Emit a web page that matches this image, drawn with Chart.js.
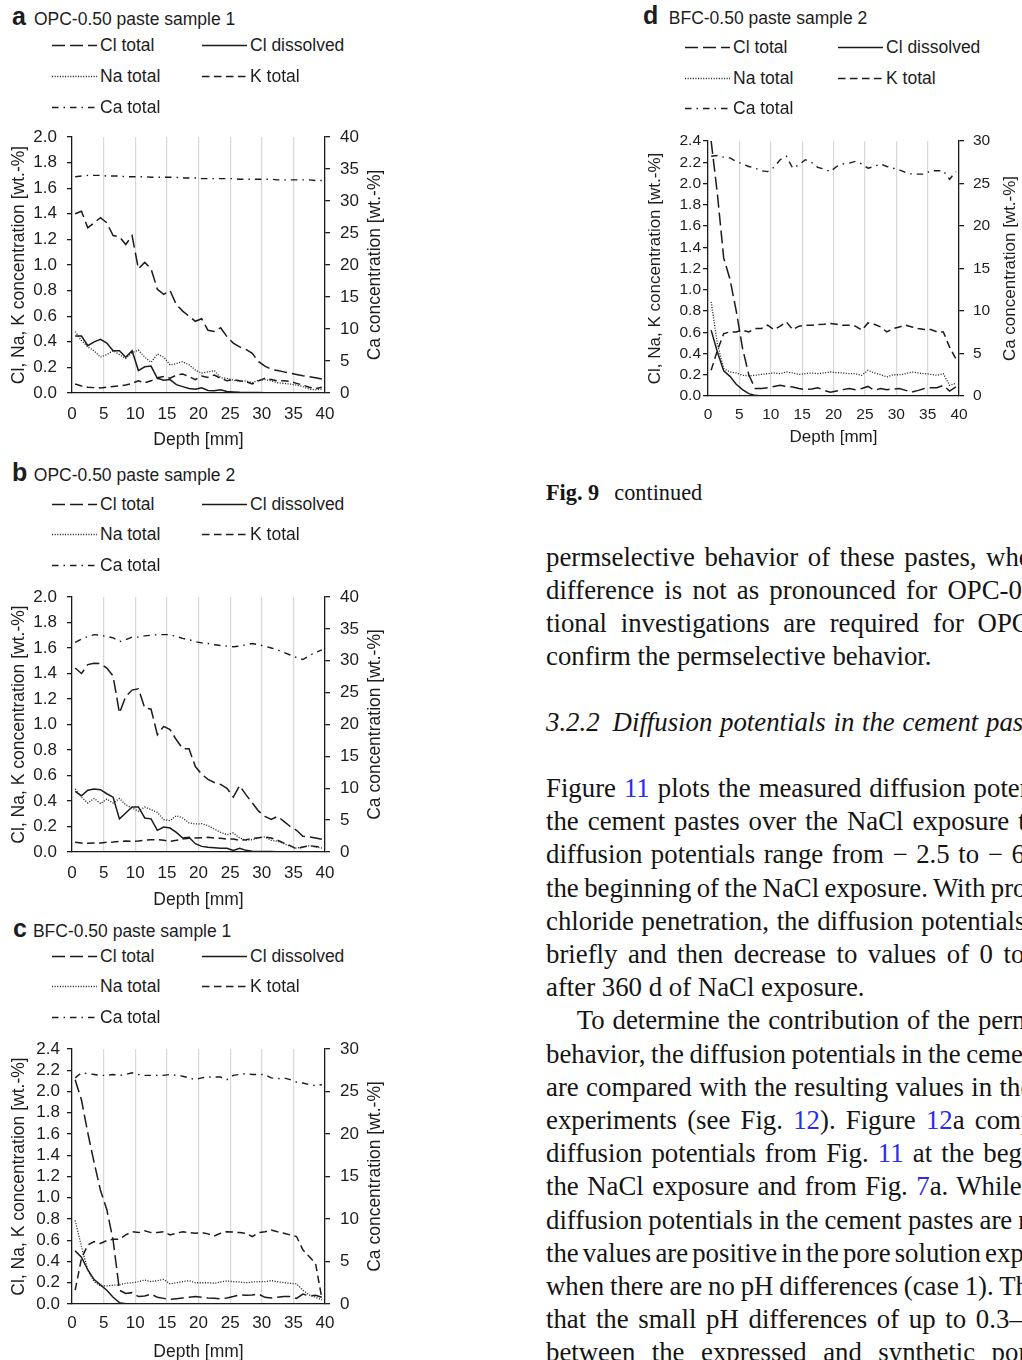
<!DOCTYPE html>
<html lang="en">
<head>
<meta charset="utf-8">
<title>Fig. 9 continued</title>
<script src="https://cdn.jsdelivr.net/npm/chart.js@4.4.1/dist/chart.umd.min.js"></script>
<style>
  html, body { margin: 0; padding: 0; background: #fff; }
  body { width: 1022px; height: 1360px; overflow: hidden; position: relative; color: #1d1d1d;
         font-family: "Liberation Sans", Arial, sans-serif; }
  canvas.plot { position: absolute; }
  .ptitle { position: absolute; display: flex; align-items: baseline; white-space: nowrap; line-height: 1; }
  .ptitle b { font-size: 25px; font-weight: bold; }
  .ptitle span { font-size: 17.5px; }
  .leg { position: absolute; display: flex; align-items: flex-start; white-space: nowrap; font-size: 17.5px; line-height: 1; }
  .leg svg { margin-right: 3px; flex: none; }
  .ln { position: absolute; left: 546px; font-family: "Liberation Serif", "Times New Roman", serif;
        font-size: 26.8px; line-height: 1; white-space: nowrap; color: #141414; }
  .cap { font-size: 22.3px; }
  .ref { color: #2a2af0; }
</style>
</head>
<body>

<div class="ptitle" style="left:12px;top:3.8px"><b style="margin-right:8px">a</b><span>OPC-0.50 paste sample 1</span></div>
<div class="ptitle" style="left:12px;top:460px"><b style="margin-right:6.5px">b</b><span>OPC-0.50 paste sample 2</span></div>
<div class="ptitle" style="left:13px;top:916px"><b style="margin-right:6px">c</b><span>BFC-0.50 paste sample 1</span></div>
<div class="ptitle" style="left:643px;top:2.8px"><b style="margin-right:10.5px">d</b><span>BFC-0.50 paste sample 2</span></div>

<canvas id="chartA" class="plot" width="400" height="342" style="left:0;top:113px"></canvas>
<canvas id="chartB" class="plot" width="400" height="341" style="left:0;top:573px"></canvas>
<canvas id="chartC" class="plot" width="400" height="341" style="left:0;top:1025px"></canvas>
<canvas id="chartD" class="plot" width="386" height="341" style="left:636px;top:117px"></canvas>

<div class="ln cap" style="top:482px"><b>Fig. 9</b><span style="margin-left:15px">continued</span></div>

<div class="ln" style="top:544.3px;word-spacing:2.9px">permselective behavior of these pastes, whereas the</div>
<div class="ln" style="top:577.1px;word-spacing:3.5px">difference is not as pronounced for OPC-0.50. Addi-</div>
<div class="ln" style="top:609.9px;word-spacing:7px">tional investigations are required for OPC-0.50 to</div>
<div class="ln" style="top:642.6px">confirm the permselective behavior.</div>

<div class="ln" style="top:709.3px;font-style:italic;word-spacing:1px">3.2.2<span style="margin-left:13px">Diffusion potentials in the cement pastes</span></div>

<div class="ln" style="top:774.9px;word-spacing:1.3px">Figure <span class="ref">11</span> plots the measured diffusion potentials in</div>
<div class="ln" style="top:808.1px;word-spacing:2.3px">the cement pastes over the NaCl exposure time. The</div>
<div class="ln" style="top:841.3px;word-spacing:1.9px">diffusion potentials range from − 2.5 to − 6 mV at</div>
<div class="ln" style="top:874.5px;word-spacing:-1.3px">the beginning of the NaCl exposure. With progressing</div>
<div class="ln" style="top:907.7px;word-spacing:1.1px">chloride penetration, the diffusion potentials increase</div>
<div class="ln" style="top:940.9px;word-spacing:3.8px">briefly and then decrease to values of 0 to − 1 mV</div>
<div class="ln" style="top:974.1px">after 360 d of NaCl exposure.</div>
<div class="ln" style="top:1007.3px;left:576.7px;word-spacing:1.2px">To determine the contribution of the permselective</div>
<div class="ln" style="top:1040.5px;word-spacing:-1px">behavior, the diffusion potentials in the cement pastes</div>
<div class="ln" style="top:1073.7px;word-spacing:0.7px">are compared with the resulting values in the pore solution</div>
<div class="ln" style="top:1106.9px;word-spacing:3.5px">experiments (see Fig. <span class="ref">12</span>). Figure <span class="ref">12</span>a compares the</div>
<div class="ln" style="top:1140.1px;word-spacing:2.5px">diffusion potentials from Fig. <span class="ref">11</span> at the beginning of</div>
<div class="ln" style="top:1173.3px;word-spacing:1.8px">the NaCl exposure and from Fig. <span class="ref">7</span>a. While the</div>
<div class="ln" style="top:1206.5px;word-spacing:-0.6px">diffusion potentials in the cement pastes are negative,</div>
<div class="ln" style="top:1239.7px;word-spacing:-2.6px">the values are positive in the pore solution experiments</div>
<div class="ln" style="top:1272.9px;word-spacing:-0.8px">when there are no pH differences (case 1). This shows</div>
<div class="ln" style="top:1306.1px;word-spacing:3px">that the small pH differences of up to 0.3–0.4 pH units</div>
<div class="ln" style="top:1339.3px;word-spacing:9.8px">between the expressed and synthetic pore solutions</div>

<script>
// depth of each ground layer [mm]
const depthMm = [0.5, 1.5, 2.5, 3.5, 4.5, 5.5, 6.5, 7.5, 8.5, 9.5,
  10.5, 11.5, 12.5, 13.5, 14.5, 15.5, 16.5, 17.5, 18.5, 19.5,
  20.5, 21.5, 22.5, 23.5, 24.5, 25.5, 26.5, 27.5, 28.5, 29.5,
  30.5, 31.5, 32.5, 33.5, 34.5, 35.5, 36.5, 37.5, 38.5, 39.5];

const seriesNames = ['Cl total', 'Cl dissolved', 'Na total', 'K total', 'Ca total'];

// a: OPC-0.50 paste sample 1  (Cl, Na, K left axis; Ca right axis)
const aClTotal = [1.40, 1.42, 1.29, 1.33, 1.37, 1.33, 1.23, 1.22, 1.16, 1.23,
  0.97, 1.02, 0.97, 0.81, 0.77, 0.80, 0.69, 0.64, 0.60, 0.56,
  0.58, 0.49, 0.48, 0.51, 0.44, 0.39, 0.36, 0.34, 0.31, 0.245,
  0.21, 0.185, 0.175, 0.165, 0.155, 0.145, 0.135, 0.128, 0.12, 0.11];
const aClDissolved = [0.445, 0.445, 0.37, 0.40, 0.42, 0.39, 0.33, 0.33, 0.28, 0.33,
  0.175, 0.205, 0.21, 0.115, 0.10, 0.105, 0.065, 0.05, 0.035, 0.03,
  0.04, 0.02, 0.018, 0.025, 0.012, 0.008, 0.005, 0.004, 0.003, 0.003,
  0.002, 0.002, 0.002, 0.001, 0.001, 0.001, 0.001, 0.001, 0.0, 0.0];
const aNaTotal = [0.48, 0.41, 0.36, 0.33, 0.28, 0.30, 0.33, 0.30, 0.27, 0.315,
  0.335, 0.28, 0.24, 0.305, 0.28, 0.22, 0.23, 0.245, 0.22, 0.18,
  0.155, 0.165, 0.175, 0.12, 0.115, 0.10, 0.09, 0.095, 0.08, 0.10,
  0.105, 0.095, 0.08, 0.075, 0.07, 0.062, 0.05, 0.03, 0.025, 0.03];
const aKTotal = [0.07, 0.055, 0.045, 0.042, 0.04, 0.045, 0.05, 0.055, 0.062, 0.075,
  0.095, 0.08, 0.095, 0.12, 0.128, 0.115, 0.14, 0.148, 0.128, 0.105,
  0.133, 0.122, 0.14, 0.115, 0.095, 0.105, 0.095, 0.09, 0.07, 0.095,
  0.115, 0.105, 0.095, 0.095, 0.09, 0.075, 0.062, 0.045, 0.035, 0.045];
const aCaTotal = [33.8, 33.9, 34.0, 34.0, 34.0, 33.9, 33.9, 33.9, 33.8, 33.8,
  33.8, 33.8, 33.7, 33.7, 33.7, 33.7, 33.7, 33.6, 33.6, 33.6,
  33.5, 33.5, 33.5, 33.5, 33.5, 33.5, 33.4, 33.4, 33.4, 33.4,
  33.4, 33.4, 33.3, 33.3, 33.3, 33.3, 33.3, 33.3, 33.2, 33.2];

// b: OPC-0.50 paste sample 2
const bClTotal = [1.443, 1.40, 1.47, 1.48, 1.477, 1.443, 1.38, 1.09, 1.22, 1.27,
  1.28, 1.13, 1.12, 0.92, 0.985, 0.96, 0.88, 0.81, 0.81, 0.67,
  0.61, 0.57, 0.545, 0.53, 0.50, 0.43, 0.52, 0.45, 0.385, 0.32,
  0.28, 0.255, 0.28, 0.24, 0.20, 0.17, 0.123, 0.118, 0.11, 0.10];
const bClDissolved = [0.476, 0.44, 0.484, 0.494, 0.489, 0.457, 0.43, 0.26, 0.306, 0.353,
  0.353, 0.267, 0.26, 0.17, 0.196, 0.188, 0.154, 0.11, 0.115, 0.065,
  0.044, 0.037, 0.034, 0.029, 0.029, 0.013, 0.029, 0.013, 0.005, 0.004,
  0.003, 0.003, 0.002, 0.002, 0.001, 0.001, 0.001, 0.0, 0.0, 0.0];
const bNaTotal = [0.494, 0.43, 0.384, 0.42, 0.38, 0.415, 0.384, 0.42, 0.37, 0.345,
  0.32, 0.353, 0.332, 0.31, 0.254, 0.246, 0.285, 0.267, 0.228, 0.22,
  0.222, 0.207, 0.18, 0.154, 0.136, 0.149, 0.11, 0.092, 0.097, 0.11,
  0.118, 0.092, 0.084, 0.065, 0.044, 0.031, 0.039, 0.05, 0.039, 0.031];
const bKTotal = [0.076, 0.07, 0.068, 0.07, 0.07, 0.076, 0.078, 0.084, 0.086, 0.084,
  0.086, 0.092, 0.097, 0.097, 0.092, 0.084, 0.092, 0.102, 0.107, 0.11,
  0.112, 0.115, 0.11, 0.107, 0.102, 0.102, 0.092, 0.097, 0.107, 0.112,
  0.118, 0.11, 0.092, 0.07, 0.05, 0.024, 0.039, 0.05, 0.044, 0.039];
const bCaTotal = [32.9, 33.4, 33.8, 34.1, 34.0, 33.8, 33.6, 33.0, 33.3, 33.7,
  33.7, 33.9, 34.0, 34.1, 34.1, 34.1, 33.8, 33.5, 33.3, 33.0,
  32.8, 32.7, 32.5, 32.4, 32.3, 32.2, 32.3, 32.5, 32.7, 32.5,
  32.3, 32.0, 31.7, 31.3, 30.9, 30.5, 30.2, 30.8, 31.3, 31.7];

// c: BFC-0.50 paste sample 1
const cClTotal = [2.11, 1.92, 1.61, 1.33, 1.07, 0.89, 0.60, 0.13, 0.10, 0.107,
  0.07, 0.075, 0.094, 0.063, 0.053, 0.044, 0.05, 0.057, 0.063, 0.07,
  0.063, 0.057, 0.053, 0.05, 0.057, 0.07, 0.085, 0.082, 0.085, 0.094,
  0.063, 0.057, 0.063, 0.07, 0.07, 0.053, 0.094, 0.075, 0.082, 0.063];
const cClDissolved = [0.50, 0.44, 0.32, 0.23, 0.18, 0.13, 0.063, 0.013, 0.003, 0.0,
  0.0, 0.0, 0.0, 0.0, 0.0, 0.0, 0.0, 0.0, 0.0, 0.0,
  0.0, 0.0, 0.0, 0.0, 0.0, 0.0, 0.0, 0.0, 0.0, 0.0,
  0.0, 0.0, 0.0, 0.0, 0.0, 0.0, 0.0, 0.0, 0.0, 0.0];
const cNaTotal = [0.785, 0.54, 0.32, 0.21, 0.17, 0.17, 0.176, 0.18, 0.195, 0.20,
  0.21, 0.226, 0.21, 0.22, 0.232, 0.19, 0.20, 0.21, 0.22, 0.20,
  0.20, 0.20, 0.195, 0.207, 0.217, 0.21, 0.207, 0.20, 0.207, 0.21,
  0.21, 0.22, 0.21, 0.20, 0.195, 0.19, 0.13, 0.085, 0.063, 0.038];
const cKTotal = [0.13, 0.43, 0.556, 0.587, 0.57, 0.597, 0.61, 0.61, 0.65, 0.68,
  0.672, 0.69, 0.672, 0.672, 0.68, 0.65, 0.666, 0.68, 0.672, 0.666,
  0.672, 0.66, 0.64, 0.666, 0.68, 0.678, 0.672, 0.666, 0.635, 0.672,
  0.68, 0.697, 0.68, 0.666, 0.65, 0.635, 0.51, 0.446, 0.383, 0.053];
const cCaTotal = [26.6, 27.2, 27.1, 27.0, 26.9, 26.9, 27.0, 26.9, 27.0, 27.2,
  27.0, 26.9, 26.9, 26.9, 26.9, 27.0, 26.9, 26.8, 26.6, 26.4,
  26.6, 26.7, 26.7, 26.7, 26.4, 26.9, 27.0, 27.1, 27.0, 27.0,
  27.0, 26.6, 26.5, 26.6, 26.4, 26.1, 26.0, 25.8, 25.7, 25.8];

// d: BFC-0.50 paste sample 2
const dClTotal = [2.40, 1.90, 1.30, 1.10, 0.80, 0.45, 0.20, 0.07, 0.07, 0.078,
  0.09, 0.10, 0.09, 0.085, 0.07, 0.06, 0.066, 0.078, 0.053, 0.035,
  0.047, 0.06, 0.07, 0.06, 0.07, 0.09, 0.053, 0.07, 0.06, 0.066,
  0.07, 0.053, 0.038, 0.053, 0.07, 0.078, 0.078, 0.10, 0.047, 0.085];
const dClDissolved = [0.62, 0.415, 0.236, 0.185, 0.11, 0.06, 0.022, 0.006, 0.0, 0.0,
  0.0, 0.0, 0.0, 0.0, 0.0, 0.0, 0.0, 0.0, 0.0, 0.0,
  0.0, 0.0, 0.0, 0.0, 0.0, 0.0, 0.0, 0.0, 0.0, 0.0,
  0.0, 0.0, 0.0, 0.0, 0.0, 0.0, 0.0, 0.0, 0.0, 0.0];
const dNaTotal = [0.886, 0.49, 0.258, 0.226, 0.217, 0.195, 0.19, 0.195, 0.204, 0.21,
  0.217, 0.21, 0.226, 0.217, 0.204, 0.21, 0.217, 0.21, 0.217, 0.226,
  0.22, 0.217, 0.21, 0.21, 0.195, 0.242, 0.217, 0.20, 0.18, 0.20,
  0.20, 0.21, 0.226, 0.217, 0.21, 0.204, 0.195, 0.21, 0.10, 0.12];
const dKTotal = [0.242, 0.43, 0.587, 0.603, 0.603, 0.62, 0.603, 0.635, 0.635, 0.666,
  0.625, 0.657, 0.697, 0.625, 0.657, 0.666, 0.666, 0.672, 0.675, 0.682,
  0.675, 0.666, 0.666, 0.657, 0.62, 0.688, 0.675, 0.65, 0.603, 0.635,
  0.65, 0.666, 0.65, 0.635, 0.625, 0.625, 0.603, 0.603, 0.46, 0.35];
const dCaTotal = [28.2, 28.3, 28.1, 28.0, 27.6, 27.3, 27.0, 26.8, 26.5, 26.4,
  26.9, 27.8, 28.2, 26.8, 27.2, 27.8, 27.5, 26.9, 26.7, 26.4,
  27.0, 27.3, 27.4, 27.6, 27.3, 26.8, 27.0, 27.3, 27.0, 26.8,
  26.6, 26.3, 26.1, 26.1, 26.1, 26.5, 26.5, 26.5, 25.5, 26.4];

const ink = '#1b1b1b';
const lineStyles = {
  'Cl total':     { dash: [13, 5], width: 1.5, color: ink },
  'Cl dissolved': { dash: [], width: 1.5, color: ink },
  'Na total':     { dash: [1.1, 1.5], width: 1.3, color: '#2a2a2a' },
  'K total':      { dash: [7.5, 4.5], width: 1.5, color: ink },
  'Ca total':     { dash: [6.5, 5, 1.5, 5], width: 1.4, color: ink }
};

Chart.defaults.font.family = '"Liberation Sans", Arial, sans-serif';
Chart.defaults.color = '#1d1d1d';

// Ca axis title reads bottom-to-top like the left one
const rightAxisTitle = {
  id: 'rightAxisTitle',
  afterDraw(chart, args, opts) {
    const { ctx, chartArea } = chart;
    ctx.save();
    ctx.translate(chartArea.right + opts.offset, (chartArea.top + chartArea.bottom) / 2);
    ctx.rotate(-Math.PI / 2);
    ctx.font = opts.size + 'px "Liberation Sans", Arial, sans-serif';
    ctx.fillStyle = '#1d1d1d';
    ctx.textAlign = 'center';
    ctx.textBaseline = 'middle';
    ctx.fillText(opts.text, 0, 0);
    ctx.restore();
  }
};

// two-column legend under the panel title, built from the chart datasets
function buildLegend(chart, pos) {
  const svgNS = 'http://www.w3.org/2000/svg';
  chart.data.datasets.forEach((ds, i) => {
    const item = document.createElement('div');
    item.className = 'leg';
    item.style.left = pos.cols[i % 2] + 'px';
    item.style.top = (pos.rows[Math.floor(i / 2)] - 8.5) + 'px';
    const svg = document.createElementNS(svgNS, 'svg');
    svg.setAttribute('width', '45');
    svg.setAttribute('height', '17');
    const ln = document.createElementNS(svgNS, 'line');
    ln.setAttribute('x1', '0'); ln.setAttribute('x2', '45');
    ln.setAttribute('y1', '8.5'); ln.setAttribute('y2', '8.5');
    ln.setAttribute('stroke', ds.borderColor);
    ln.setAttribute('stroke-width', ds.borderWidth);
    if (ds.borderDash.length) ln.setAttribute('stroke-dasharray', ds.borderDash.join(' '));
    svg.appendChild(ln);
    item.appendChild(svg);
    item.appendChild(document.createTextNode(ds.label));
    document.body.appendChild(item);
  });
}

const panels = [
  { canvas: 'chartA', series: [aClTotal, aClDissolved, aNaTotal, aKTotal, aCaTotal],
    yMax: 2.0, caMax: 40, tickSize: 17, titleSize: 17.5, yPad: 10, y1Pad: 10, xPad: 10.8,
    xTitlePad: 4.5, yTitlePad: 9, rightWidth: 75, rightTitleOffset: 50,
    legend: { cols: [52, 202], rows: [45, 76, 107] } },
  { canvas: 'chartB', series: [bClTotal, bClDissolved, bNaTotal, bKTotal, bCaTotal],
    yMax: 2.0, caMax: 40, tickSize: 17, titleSize: 17.5, yPad: 10, y1Pad: 10, xPad: 10.8,
    xTitlePad: 3.5, yTitlePad: 9, rightWidth: 75, rightTitleOffset: 50,
    legend: { cols: [52, 202], rows: [504, 534, 565] } },
  { canvas: 'chartC', series: [cClTotal, cClDissolved, cNaTotal, cKTotal, cCaTotal],
    yMax: 2.4, caMax: 30, tickSize: 17, titleSize: 17.5, yPad: 7, y1Pad: 10, xPad: 8.8,
    xTitlePad: 3.5, yTitlePad: 9, rightWidth: 75, rightTitleOffset: 50,
    legend: { cols: [52, 202], rows: [956, 986, 1017] } },
  { canvas: 'chartD', series: [dClTotal, dClDissolved, dNaTotal, dKTotal, dCaTotal],
    yMax: 2.4, caMax: 30, tickSize: 15.5, titleSize: 17, yPad: 2, y1Pad: 9, xPad: 9.7,
    xTitlePad: 10.5, yTitlePad: 8.8, rightWidth: 63, rightTitleOffset: 51,
    legend: { cols: [685, 838], rows: [47, 78, 108] } }
];

function makePanel(p) {
  const datasets = seriesNames.map((name, i) => ({
    label: name,
    data: depthMm.map((x, j) => ({ x: x, y: p.series[i][j] })),
    yAxisID: name === 'Ca total' ? 'y1' : 'y',
    borderColor: lineStyles[name].color,
    borderWidth: lineStyles[name].width,
    borderDash: lineStyles[name].dash,
    pointRadius: 0,
    tension: 0,
    fill: false
  }));

  const axisTicks = { drawOnChartArea: false, drawTicks: true, tickLength: 5, color: ink, lineWidth: 1.3 };
  const chart = new Chart(document.getElementById(p.canvas), {
    type: 'line',
    data: { datasets: datasets },
    options: {
      responsive: false,
      animation: false,
      devicePixelRatio: 1,
      // top padding larger than half a tick label plus its padding, so the plot top is fixed
      layout: { padding: { top: 24, left: 0, right: 0, bottom: 0 } },
      plugins: {
        legend: { display: false },
        tooltip: { enabled: false },
        rightAxisTitle: { text: 'Ca concentration [wt.-%]', offset: p.rightTitleOffset, size: p.titleSize }
      },
      scales: {
        x: {
          type: 'linear', min: 0, max: 40,
          afterFit: s => { s.height = 62; },
          ticks: { stepSize: 5, autoSkip: false, maxRotation: 0, padding: p.xPad, font: { size: p.tickSize } },
          grid: {
            drawTicks: false, lineWidth: 1.2,
            color: c => (c.tick && c.tick.value > 0 && c.tick.value < 40) ? '#d8d8d8' : 'rgba(0,0,0,0)'
          },
          border: { color: ink, width: 1.3 },
          title: { display: true, text: 'Depth [mm]', font: { size: p.titleSize }, padding: { top: 0, bottom: p.xTitlePad } }
        },
        y: {
          position: 'left', min: 0, max: p.yMax,
          afterFit: s => { s.width = 72; },
          ticks: { stepSize: 0.2, autoSkip: false, padding: p.yPad, font: { size: p.tickSize }, callback: v => v.toFixed(1) },
          grid: axisTicks,
          border: { color: ink, width: 1.3 },
          title: { display: true, text: 'Cl, Na, K concentration [wt.-%]', font: { size: p.titleSize }, padding: { top: p.yTitlePad, bottom: 0 } }
        },
        y1: {
          position: 'right', min: 0, max: p.caMax,
          afterFit: s => { s.width = p.rightWidth; },
          ticks: { stepSize: 5, autoSkip: false, padding: p.y1Pad, font: { size: p.tickSize } },
          grid: axisTicks,
          border: { color: ink, width: 1.3 }
        }
      }
    },
    plugins: [rightAxisTitle]
  });
  buildLegend(chart, p.legend);
}

panels.forEach(makePanel);
</script>
</body>
</html>
